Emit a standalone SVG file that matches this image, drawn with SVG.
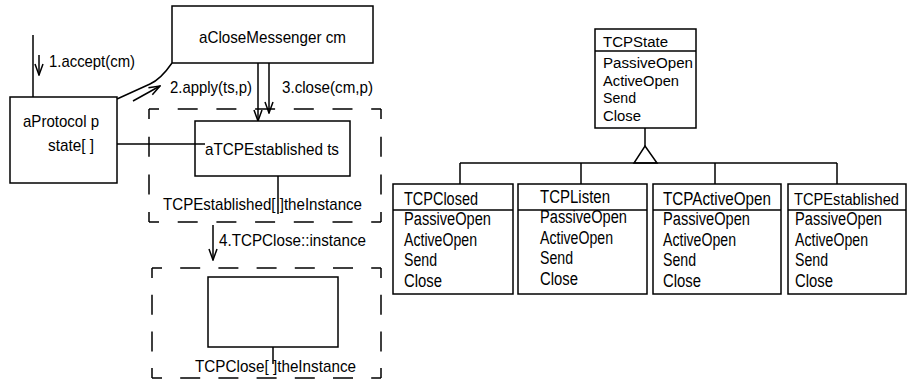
<svg xmlns="http://www.w3.org/2000/svg" width="908" height="383" viewBox="0 0 908 383">
<defs>
<style>
text{font-family:"Liberation Sans Narrow","Liberation Sans",Arial,sans-serif;font-size:17px;fill:#000}
.r text{font-size:18px}
#TCPState text{font-size:15.5px}
.r text.t2{font-size:15.8px}
.box{fill:#fff;stroke:#000;stroke-width:1.5}
.ln{fill:none;stroke:#000;stroke-width:1.5}
.ar{fill:none;stroke:#000;stroke-width:1.5;marker-end:url(#arr)}
.d{fill:none;stroke:#000;stroke-width:1.5;stroke-dashoffset:10}
</style>
<marker id="arr" viewBox="-13 -6 14 12" refX="0" refY="0" markerWidth="14" markerHeight="12" orient="auto" markerUnits="userSpaceOnUse">
<path d="M-11,-4 L0,0 L-11,4" fill="none" stroke="#000" stroke-width="1.5"/>
</marker>
</defs>
<rect width="908" height="383" fill="#fff"/>

<g id="dashed-established">
<line class="d" x1="149" y1="109" x2="381" y2="109" stroke-dasharray="20 18.7"/>
<line class="d" x1="149" y1="222" x2="381" y2="222" stroke-dasharray="20 18.7"/>
<line class="d" x1="149" y1="109" x2="149" y2="222" stroke-dasharray="20 17.7"/>
<line class="d" x1="381" y1="109" x2="381" y2="222" stroke-dasharray="20 17.7"/>
<text x="163" y="210" textLength="199" lengthAdjust="spacingAndGlyphs">TCPEstablished[ ]theInstance</text>
</g>

<g id="dashed-close">
<line class="d" x1="152" y1="268" x2="381" y2="268" stroke-dasharray="20 18.2"/>
<line class="d" x1="152" y1="378" x2="381" y2="378" stroke-dasharray="20 18.2"/>
<line class="d" x1="152" y1="268" x2="152" y2="378" stroke-dasharray="20 16.7"/>
<line class="d" x1="381" y1="268" x2="381" y2="378" stroke-dasharray="20 16.7"/>
<text x="195" y="372" textLength="161" lengthAdjust="spacingAndGlyphs">TCPClose[ ]theInstance</text>
</g>

<g id="connectors">
<line class="ln" x1="33" y1="35" x2="33" y2="97"/>
<line class="ar" x1="39" y1="55" x2="39" y2="75"/>
<text x="49" y="67" textLength="86" lengthAdjust="spacingAndGlyphs">1.accept(cm)</text>
<path class="ln" d="M117,99 L150,84 Q161,79 172,63"/>
<line class="ar" x1="133" y1="101" x2="160" y2="86"/>
<text x="170" y="93" textLength="82" lengthAdjust="spacingAndGlyphs">2.apply(ts,p)</text>
<line class="ar" x1="258" y1="63" x2="258" y2="121"/>
<line class="ar" x1="269" y1="63" x2="269" y2="113"/>
<text x="282" y="93" textLength="91" lengthAdjust="spacingAndGlyphs">3.close(cm,p)</text>
<line class="ln" x1="117" y1="144" x2="205" y2="144"/>
<line class="ln" x1="278" y1="176" x2="278" y2="214"/>
<line class="ar" x1="213" y1="225" x2="213" y2="260"/>
<text x="219" y="246" textLength="147" lengthAdjust="spacingAndGlyphs">4.TCPClose::instance</text>
<line class="ln" x1="273" y1="347" x2="273" y2="364"/>
<line class="ln" x1="645" y1="128" x2="645" y2="146"/>
<path class="ln" d="M645,146 L657,163 L634,163 Z"/>
<line class="ln" x1="460" y1="163" x2="837" y2="163"/>
<line class="ln" x1="460" y1="163" x2="460" y2="184"/>
<line class="ln" x1="581" y1="163" x2="581" y2="184"/>
<line class="ln" x1="715" y1="163" x2="715" y2="184"/>
<line class="ln" x1="837" y1="163" x2="837" y2="184"/>
</g>

<g id="aCloseMessenger">
<rect class="box" x="172" y="6" width="201" height="57"/>
<text x="199" y="43" textLength="147" lengthAdjust="spacingAndGlyphs">aCloseMessenger cm</text>
</g>

<g id="aProtocol">
<rect class="box" x="10" y="97" width="107" height="86"/>
<text x="23" y="127" textLength="76" lengthAdjust="spacingAndGlyphs">aProtocol p</text>
<text x="48" y="151" textLength="46" lengthAdjust="spacingAndGlyphs">state[ ]</text>
</g>

<g id="aTCPEstablished">
<rect class="box" x="195" y="121" width="155" height="55"/>
<line class="ln" x1="195" y1="144" x2="205" y2="144"/>
<text x="205" y="155" textLength="134" lengthAdjust="spacingAndGlyphs">aTCPEstablished ts</text>
</g>

<g id="TCPCloseInstance">
<rect class="box" x="208" y="277" width="130" height="70"/>
</g>

<g class="r">
<g id="TCPState">
<rect class="box" x="595" y="29" width="101" height="99"/>
<line class="ln" x1="595" y1="51" x2="696" y2="51"/>
<text x="603" y="47" textLength="65" lengthAdjust="spacingAndGlyphs">TCPState</text>
<text x="603" y="68" textLength="90" lengthAdjust="spacingAndGlyphs">PassiveOpen</text>
<text x="603" y="85.5" textLength="76" lengthAdjust="spacingAndGlyphs">ActiveOpen</text>
<text x="603" y="103" textLength="33" lengthAdjust="spacingAndGlyphs">Send</text>
<text x="603" y="120.5" textLength="38" lengthAdjust="spacingAndGlyphs">Close</text>
</g>

<g id="TCPClosed">
<rect class="box" x="393" y="184" width="120" height="110"/>
<line class="ln" x1="393" y1="210" x2="513" y2="210"/>
<text x="404" y="205" textLength="74" lengthAdjust="spacingAndGlyphs">TCPClosed</text>
<text x="404" y="225" textLength="87" lengthAdjust="spacingAndGlyphs">PassiveOpen</text>
<text x="404" y="246" textLength="73" lengthAdjust="spacingAndGlyphs">ActiveOpen</text>
<text x="404" y="266" textLength="33" lengthAdjust="spacingAndGlyphs">Send</text>
<text x="404" y="287" textLength="38" lengthAdjust="spacingAndGlyphs">Close</text>
</g>

<g id="TCPListen">
<rect class="box" x="518" y="184" width="129" height="110"/>
<line class="ln" x1="518" y1="210" x2="647" y2="210"/>
<text x="540" y="203" textLength="70" lengthAdjust="spacingAndGlyphs">TCPListen</text>
<text x="540" y="223" textLength="87" lengthAdjust="spacingAndGlyphs">PassiveOpen</text>
<text x="540" y="244" textLength="73" lengthAdjust="spacingAndGlyphs">ActiveOpen</text>
<text x="540" y="264" textLength="33" lengthAdjust="spacingAndGlyphs">Send</text>
<text x="540" y="285" textLength="38" lengthAdjust="spacingAndGlyphs">Close</text>
</g>

<g id="TCPActiveOpen">
<rect class="box" x="653" y="184" width="128" height="110"/>
<line class="ln" x1="653" y1="210" x2="781" y2="210"/>
<text x="663" y="205" textLength="108" lengthAdjust="spacingAndGlyphs">TCPActiveOpen</text>
<text x="663" y="225" textLength="87" lengthAdjust="spacingAndGlyphs">PassiveOpen</text>
<text x="663" y="246" textLength="73" lengthAdjust="spacingAndGlyphs">ActiveOpen</text>
<text x="663" y="266" textLength="33" lengthAdjust="spacingAndGlyphs">Send</text>
<text x="663" y="287" textLength="38" lengthAdjust="spacingAndGlyphs">Close</text>
</g>

<g id="TCPEstablished">
<rect class="box" x="788" y="184" width="118" height="110"/>
<line class="ln" x1="788" y1="210" x2="906" y2="210"/>
<text class="t2" x="794" y="205" textLength="105" lengthAdjust="spacingAndGlyphs">TCPEstablished</text>
<text x="795" y="225" textLength="87" lengthAdjust="spacingAndGlyphs">PassiveOpen</text>
<text x="795" y="246" textLength="73" lengthAdjust="spacingAndGlyphs">ActiveOpen</text>
<text x="795" y="266" textLength="33" lengthAdjust="spacingAndGlyphs">Send</text>
<text x="795" y="287" textLength="38" lengthAdjust="spacingAndGlyphs">Close</text>
</g>
</g>
</svg>
